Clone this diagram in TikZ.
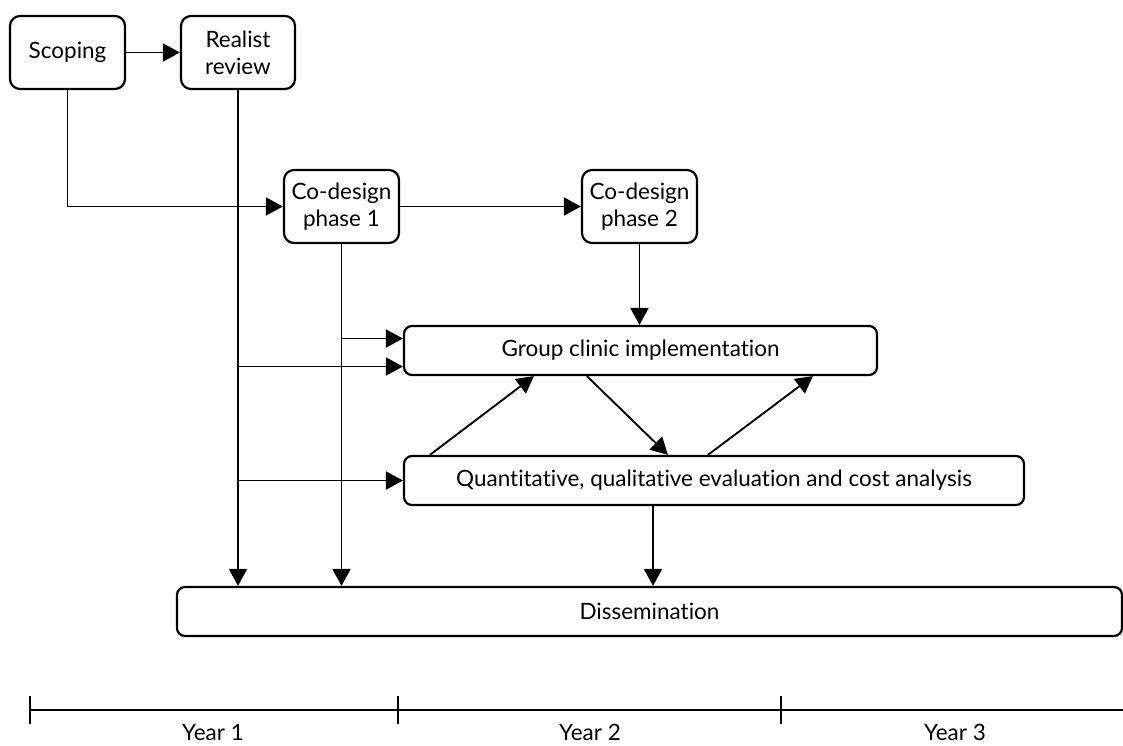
\documentclass[tikz,border=0pt]{standalone}
\usepackage{fontspec}
\setmainfont{Lato}[Ligatures=NoCommon]
\usepackage{tikz}
\usetikzlibrary{calc,positioning,arrows.meta}

\begin{document}
\begin{tikzpicture}[x=1pt, y=-1pt,
    stageBox/.style={draw, line width=2.2pt, rounded corners=10pt, align=center,
      minimum width=115pt, minimum height=73pt, inner sep=0pt,
      font=\fontsize{22.5}{27}\selectfont},
    wideBox/.style={stageBox, rounded corners=8pt, minimum height=49pt},
    flowArrow/.style={line width=1.9pt, -{Triangle[length=17pt,width=18pt]}},
    yearLabel/.style={font=\fontsize{22.5}{27}\selectfont, inner sep=0pt}]
  \useasboundingbox (0,0) rectangle (1123,745);
  % Top boxes
  \node[stageBox] (scoping) at (67.5,52.5) {Scoping};
  \node[stageBox, minimum width=114pt] (review) at (238,52.5) {Realist\\review};
  \node[stageBox] (codesign1) at (341.5,206.5) {Co-design\\phase 1};
  \node[stageBox] (codesign2) at (639.5,206.5) {Co-design\\phase 2};
  % Wide boxes
  \node[wideBox, minimum width=473pt] (clinic) at (640.5,350.5) {Group clinic implementation};
  \node[wideBox, minimum width=620pt] (evaluation) at (714,480.5)
    {Quantitative, qualitative evaluation and cost analysis};
  \node[wideBox, minimum width=945pt] (dissemination) at (649.5,611.5) {Dissemination};
  % Entry points
  \coordinate (clinicIn1) at ([yshift=12pt]clinic.west);
  \coordinate (clinicIn2) at ([yshift=-16pt]clinic.west);
  \coordinate (evalOut) at ([xshift=-61pt]evaluation.south);
  % Arrows
  \draw[flowArrow] (scoping) -- (review);
  \draw[flowArrow] (scoping.south) |- (codesign1.west);
  \draw[flowArrow] (codesign1) -- (codesign2);
  \draw[flowArrow] (review.south) -- (review.south |- dissemination.north);
  \draw[flowArrow] (codesign1.south) -- (codesign1.south |- dissemination.north);
  \draw[flowArrow] (codesign2.south) -- (codesign2.south |- clinic.north);
  \draw[flowArrow] (codesign1.south |- clinicIn1) -- (clinicIn1);
  \draw[flowArrow] (review.south |- clinicIn2) -- (clinicIn2);
  \draw[flowArrow] (review.south |- evaluation.west) -- (evaluation.west);
  \draw[flowArrow] ([xshift=27pt]evaluation.north west) -- ([xshift=131pt]clinic.south west);
  \draw[flowArrow] ([xshift=184pt]clinic.south west) -- ([xshift=265pt]evaluation.north west);
  \draw[flowArrow] ([xshift=305pt]evaluation.north west) -- ([xshift=410pt]clinic.south west);
  \draw[flowArrow] (evalOut) -- (evalOut |- dissemination.north);
  % Timeline
  \draw[line width=1.9pt] (30,710) -- (1123,710);
  \foreach \x in {30, 398, 781}
    \draw[line width=1.9pt] (\x,696) -- (\x,724);
  \node[yearLabel] (year1) at (213,732) {Year 1};
  \node[yearLabel] (year2) at (590,732) {Year 2};
  \node[yearLabel] (year3) at (955,732) {Year 3};
\end{tikzpicture}
\end{document}
